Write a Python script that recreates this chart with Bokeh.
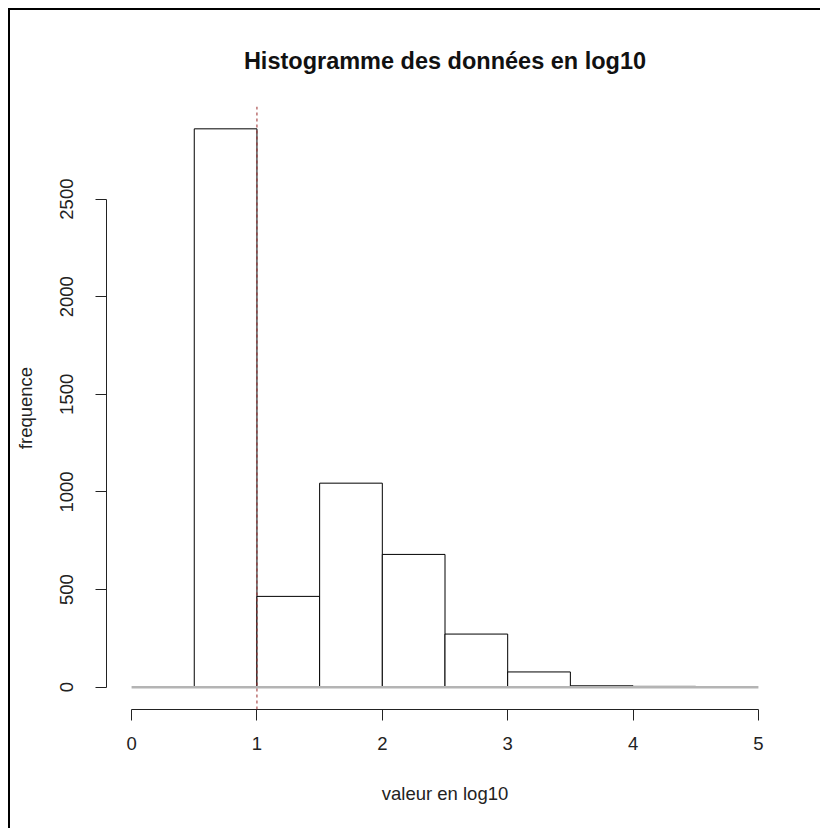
from bokeh.plotting import figure
from bokeh.models import Range1d, Span, FixedTicker
from bokeh.embed import file_html
from bokeh.resources import INLINE

# Histogram of log10 values: bin edges and counts per bin
breaks = [0.5, 1.0, 1.5, 2.0, 2.5, 3.0, 3.5, 4.0, 4.5]
counts = [2860, 465, 1045, 680, 272, 78, 7, 4]

# Axis ticks
x_ticks = [0, 1, 2, 3, 4, 5]
y_ticks = [0, 500, 1000, 1500, 2000, 2500]

# Threshold marked by the dashed vertical line
threshold = 1.0

title_text = "Histogramme des données en log10"
x_label = "valeur en log10"
y_label = "frequence"

FONT = "Liberation Sans"
INK = "#222222"

# R-style 4% padding around the plotted limits
x_lo, x_hi = x_ticks[0], x_ticks[-1]
x_pad = 0.04 * (x_hi - x_lo)
y_lo, y_hi = 0, max(counts)
y_pad = 0.04 * (y_hi - y_lo)

p = figure(
    width=820, height=828,
    x_range=Range1d(x_lo - x_pad, x_hi + x_pad),
    y_range=Range1d(y_lo - y_pad, y_hi + y_pad),
    output_backend="svg", toolbar_location=None,
    min_border_left=106, min_border_right=37,
    min_border_top=106, min_border_bottom=119,
)
# Transparent canvas border so the element background shows through:
# it paints the black frame line along the top and left edges.
p.border_fill_alpha = 0
p.styles = {
    "background": (
        "linear-gradient(#000, #000) 8px 8px / 2px 820px no-repeat, "
        "linear-gradient(#000, #000) 8px 8px / 812px 2px no-repeat, "
        "#ffffff"
    )
}

p.outline_line_color = None
p.background_fill_color = "white"
p.xgrid.visible = False
p.ygrid.visible = False

# Bars
p.quad(left=breaks[:-1], right=breaks[1:], bottom=0, top=counts,
       fill_color="white", line_color="black", line_width=1)

# Grey baseline at zero
p.segment(x0=[x_lo], x1=[x_hi], y0=[0], y1=[0],
          line_color="#b4b4b4", line_width=2.5)

# Dashed threshold line
p.add_layout(Span(location=threshold, dimension="height",
                  line_color="#9a2a2a", line_width=1, line_dash="3 3"))

# Axes
for ax in (p.xaxis[0], p.yaxis[0]):
    ax.axis_line_color = INK
    ax.axis_line_width = 1
    ax.major_tick_line_color = INK
    ax.major_tick_out = 11
    ax.major_tick_in = 0
    ax.minor_tick_line_color = None
    ax.major_label_text_font = FONT
    ax.major_label_text_font_size = "18.5px"
    ax.major_label_text_color = INK
    ax.axis_label_text_font = FONT
    ax.axis_label_text_font_size = "18.5px"
    ax.axis_label_text_font_style = "normal"
    ax.axis_label_text_color = INK

p.xaxis.ticker = FixedTicker(ticks=x_ticks)
p.xaxis.bounds = (x_ticks[0], x_ticks[-1])
p.xaxis.major_label_standoff = 16
p.xaxis.axis_label = x_label
p.xaxis.axis_label_standoff = 30

p.yaxis.ticker = FixedTicker(ticks=y_ticks)
p.yaxis.bounds = (y_ticks[0], y_ticks[-1])
p.yaxis.major_label_orientation = "vertical"
p.yaxis.major_label_standoff = 22
p.yaxis.axis_label = y_label
p.yaxis.axis_label_standoff = 22

# Title
p.title.text = title_text
p.title.align = "center"
p.title.text_font = FONT
p.title.text_font_size = "23.5px"
p.title.text_font_style = "bold"
p.title.text_color = "#111111"
p.title.standoff = 66

open("out.html", "w").write(file_html(p, INLINE))
